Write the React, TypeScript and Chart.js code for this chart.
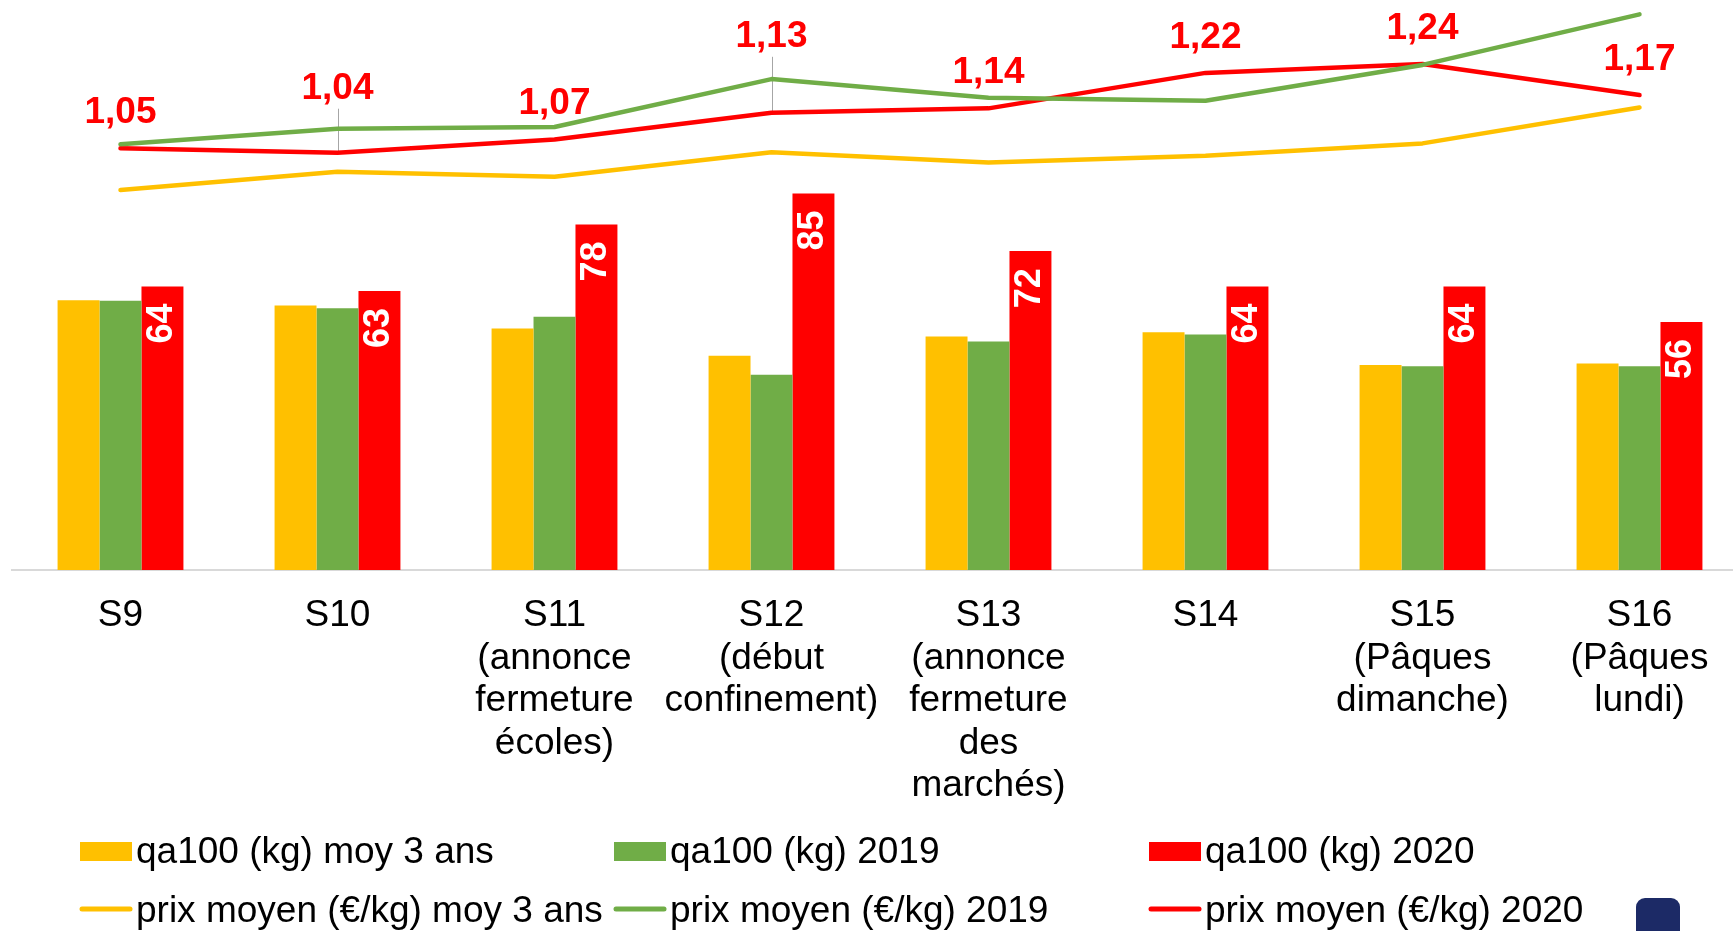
import React, { useEffect, useRef } from "react";
import { Chart, registerables } from "chart.js";

Chart.register(...registerables);

// ---------- data ----------
const categories: string[][] = [
  ["S9"],
  ["S10"],
  ["S11", "(annonce", "fermeture", "écoles)"],
  ["S12", "(début", "confinement)"],
  ["S13", "(annonce", "fermeture", "des", "marchés)"],
  ["S14"],
  ["S15", "(Pâques", "dimanche)"],
  ["S16", "(Pâques", "lundi)"],
];

const qtyAvg3 = [60.9, 59.7, 54.5, 48.4, 52.7, 53.7, 46.3, 46.6];
const qty2019 = [60.8, 59.1, 57.2, 44.1, 51.6, 53.2, 46.0, 46.0];
const qty2020 = [64, 63, 78, 85, 72, 64, 64, 56];

const priceAvg3 = [0.956, 0.997, 0.986, 1.041, 1.018, 1.033, 1.061, 1.142];
const price2019 = [1.059, 1.094, 1.098, 1.206, 1.164, 1.157, 1.238, 1.352];
const price2020 = [1.05, 1.04, 1.07, 1.13, 1.14, 1.22, 1.24, 1.17];

const seriesLabels = [
  "qa100 (kg) moy 3 ans",
  "qa100 (kg) 2019",
  "qa100 (kg) 2020",
  "prix moyen (€/kg) moy 3 ans",
  "prix moyen (€/kg) 2019",
  "prix moyen (€/kg) 2020",
];

// ---------- style ----------
const YELLOW = "#FFC000";
const GREEN = "#70AD47";
const RED = "#FF0000";
const FONT = "'Liberation Sans', Arial, Helvetica, sans-serif";
// distance from the red price point up to its label baseline (two labels sit higher, with leader lines)
const priceLabelLift = [25, 54, 25, 66, 25, 25, 25, 25];

const overlayPlugin = {
  id: "overlay",
  beforeDatasetsDraw(chart: any) {
    const ctx = chart.ctx;
    const meta = chart.getDatasetMeta(5);
    ctx.save();
    ctx.strokeStyle = "#A6A6A6";
    ctx.lineWidth = 1;
    meta.data.forEach((pt: any, i: number) => {
      const lift = priceLabelLift[i];
      if (lift > 40) {
        const x = Math.round(pt.x) + 0.5;
        ctx.beginPath();
        ctx.moveTo(x, pt.y - lift + 10);
        ctx.lineTo(x, pt.y);
        ctx.stroke();
      }
    });
    ctx.restore();
  },
  afterDatasetsDraw(chart: any) {
    const ctx = chart.ctx;
    ctx.save();
    // bar value labels (2020), rotated
    const barMeta = chart.getDatasetMeta(2);
    ctx.fillStyle = "#FFFFFF";
    ctx.font = `bold 36px ${FONT}`;
    barMeta.data.forEach((el: any, i: number) => {
      ctx.save();
      ctx.translate(el.x, el.y + 17);
      ctx.rotate(-Math.PI / 2);
      ctx.textAlign = "right";
      ctx.textBaseline = "middle";
      ctx.fillText(String(qty2020[i]), 0, 0);
      ctx.restore();
    });
    // price labels (2020)
    const lineMeta = chart.getDatasetMeta(5);
    ctx.fillStyle = RED;
    ctx.font = `bold 37px ${FONT}`;
    ctx.textAlign = "center";
    ctx.textBaseline = "alphabetic";
    lineMeta.data.forEach((pt: any, i: number) => {
      const txt = price2020[i].toFixed(2).replace(".", ",");
      ctx.fillText(txt, pt.x, pt.y - priceLabelLift[i]);
    });
    ctx.restore();
  },
  afterDraw(chart: any) {
    const ctx = chart.ctx;
    ctx.save();
    const cols = [80, 614, 1149];
    const colors = [YELLOW, GREEN, RED];
    ctx.font = `37px ${FONT}`;
    ctx.textBaseline = "middle";
    ctx.textAlign = "left";
    for (let i = 0; i < 3; i++) {
      ctx.fillStyle = colors[i];
      ctx.fillRect(cols[i], 842, 52, 19);
      ctx.fillStyle = "#000000";
      ctx.fillText(seriesLabels[i], cols[i] + 56, 853);
    }
    for (let i = 0; i < 3; i++) {
      ctx.strokeStyle = colors[i];
      ctx.lineWidth = 5;
      ctx.lineCap = "round";
      ctx.beginPath();
      ctx.moveTo(cols[i] + 2, 909);
      ctx.lineTo(cols[i] + 50, 909);
      ctx.stroke();
      ctx.fillStyle = "#000000";
      ctx.fillText(seriesLabels[3 + i], cols[i] + 56, 912);
    }
    // small navy badge at bottom right
    ctx.fillStyle = "#1C2A66";
    ctx.beginPath();
    (ctx as any).roundRect(1636, 898, 44, 45, 9);
    ctx.fill();
    ctx.restore();
  },
};

export default function App() {
  const ref = useRef<HTMLCanvasElement>(null);

  useEffect(() => {
    const barCommon = { type: "bar", yAxisID: "y", categoryPercentage: 0.58, barPercentage: 1, borderWidth: 0, order: 2 };
    const lineCommon = {
      type: "line",
      yAxisID: "y1",
      borderWidth: 4.5,
      pointRadius: 0,
      pointHoverRadius: 0,
      tension: 0,
      clip: false,
      fill: false,
      borderCapStyle: "round",
      borderJoinStyle: "round",
      order: 1,
    };
    const chart = new Chart(ref.current as HTMLCanvasElement, {
      type: "bar",
      data: {
        labels: categories as any,
        datasets: [
          { ...barCommon, label: seriesLabels[0], data: qtyAvg3, backgroundColor: YELLOW },
          { ...barCommon, label: seriesLabels[1], data: qty2019, backgroundColor: GREEN },
          { ...barCommon, label: seriesLabels[2], data: qty2020, backgroundColor: RED },
          { ...lineCommon, label: seriesLabels[3], data: priceAvg3, borderColor: YELLOW, backgroundColor: YELLOW },
          { ...lineCommon, label: seriesLabels[4], data: price2019, borderColor: GREEN, backgroundColor: GREEN },
          { ...lineCommon, label: seriesLabels[5], data: price2020, borderColor: RED, backgroundColor: RED },
        ] as any,
      },
      options: {
        animation: false,
        responsive: false,
        maintainAspectRatio: false,
        devicePixelRatio: 1,
        layout: { padding: { left: 12, right: 12, top: 0, bottom: 101 } },
        plugins: { legend: { display: false }, tooltip: { enabled: false } },
        scales: {
          x: {
            grid: { display: false, drawTicks: false },
            border: { display: true, color: "#D9D9D9", width: 2 },
            ticks: {
              color: "#000000",
              font: { family: FONT, size: 37, lineHeight: "42.5px" } as any,
              padding: 25,
              maxRotation: 0,
              minRotation: 0,
              autoSkip: false,
            },
            afterFit: (s: any) => {
              s.height = 260;
            },
          },
          y: { display: false, min: 0, max: 128.7 },
          y1: { display: false, min: 0.0989, max: 1.3844, position: "right" },
        },
      } as any,
      plugins: [overlayPlugin],
    });
    return () => chart.destroy();
  }, []);

  return (
    <div
      style={{
        position: "absolute",
        left: 0,
        top: 0,
        width: 1733,
        height: 931,
        overflow: "hidden",
        background: "#FFFFFF",
      }}
    >
      <canvas ref={ref} width={1760} height={931} style={{ width: 1760, height: 931, display: "block" }} />
    </div>
  );
}
